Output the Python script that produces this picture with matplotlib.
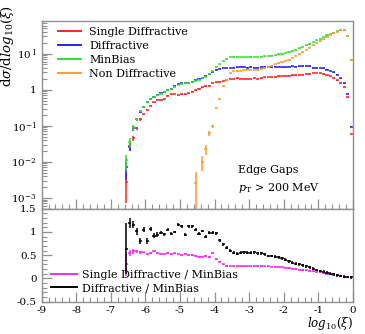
import numpy as np
import matplotlib
matplotlib.use("Agg")
import matplotlib.pyplot as plt
from matplotlib.lines import Line2D
from matplotlib.ticker import FixedLocator, MultipleLocator, LogLocator, NullFormatter, FuncFormatter

plt.rcParams["font.family"] = ["DejaVu Serif"]
plt.rcParams["mathtext.fontset"] = "dejavuserif"

# ── Data (bin centres in log10(xi), width 0.1) ────────────────────────────────
bins = np.round(np.arange(-6.55, 0.0, 0.1), 2)

single_diff = [0.0028, 0.027, 0.045, 0.085, 0.15, 0.21, 0.28, 0.36, 0.45, 0.52,
               0.53, 0.55, 0.68, 0.74, 0.76, 0.72, 0.75, 0.74, 0.80, 0.88,
               0.95, 1.05, 1.15, 1.25, 1.30, 1.55, 1.60, 1.65, 1.70, 1.90,
               2.00, 2.00, 2.05, 2.00, 2.00, 2.00, 2.00, 2.05, 2.00, 2.10,
               2.20, 2.25, 2.20, 2.30, 2.35, 2.40, 2.45, 2.45, 2.50, 2.50,
               2.50, 2.60, 2.70, 2.80, 2.90, 2.90, 2.85, 2.70, 2.50, 2.35,
               2.10, 1.80, 1.50, 1.20, 0.62, 0.059]
diffractive = [0.007, 0.026, 0.085, 0.15, 0.24, 0.33, 0.45, 0.56, 0.63, 0.70,
               0.80, 0.88, 0.97, 1.07, 1.25, 1.40, 1.50, 1.55, 1.55, 1.65,
               1.80, 1.95, 2.10, 2.35, 2.70, 3.10, 3.60, 3.80, 4.00, 4.00,
               4.00, 4.10, 4.20, 4.30, 4.20, 4.10, 4.20, 4.10, 4.10, 4.20,
               4.30, 4.30, 4.20, 4.30, 4.30, 4.20, 4.20, 4.30, 4.40, 4.30,
               4.50, 4.60, 4.60, 4.40, 4.10, 4.10, 4.00, 3.90, 3.60, 3.30,
               3.00, 2.60, 2.10, 1.50, 0.78, 0.095]
minbias = [0.011, 0.035, 0.09, 0.15, 0.25, 0.33, 0.45, 0.55, 0.62, 0.70,
           0.78, 0.85, 0.95, 1.05, 1.20, 1.35, 1.45, 1.50, 1.50, 1.60,
           1.75, 1.90, 2.10, 2.30, 2.70, 3.20, 4.20, 5.20, 6.20, 7.20,
           8.00, 8.20, 8.20, 8.10, 8.00, 8.10, 8.20, 8.00, 8.10, 8.30,
           8.40, 8.60, 8.80, 9.20, 9.60, 10.0, 10.4, 10.8, 11.6, 12.8,
           14.0, 15.3, 17.0, 19.0, 21.0, 23.5, 26.0, 29.0, 32.0, 35.0,
           38.0, 42.0, 46.0, 45.0, 31.0, 6.6]
non_diff = [np.nan] * 20 + [
           0.0026, np.nan, 0.010, 0.022, 0.063, 0.096, 0.31, 0.55, 1.24, 1.90,
           2.90, 3.30, 3.40, 3.40, 3.50, 3.60, 3.60, 3.50, 3.60, 3.80,
           3.90, 4.30, 4.60, 5.00, 5.40, 5.80, 6.20, 6.80, 7.60, 8.60,
           9.60, 11.0, 12.5, 14.5, 17.0, 19.5, 22.0, 25.0, 29.0, 33.0,
           37.0, 40.5, 44.0, 44.0, 30.0, 6.5]

# relative errors on the first bins (rest ~3%)
sd_relerr = [0.75, 0.25, 0.18, 0.12, 0.08]
dd_relerr = [0.55, 0.25, 0.15, 0.10, 0.06]
mb_relerr = [0.45, 0.30, 0.15, 0.08, 0.06]
nd_relerr = {20: 0.95, 22: 0.45, 23: 0.30, 24: 0.15, 25: 0.08}

ratio_sd = [0.30, 0.55, 0.58, 0.58, 0.56, 0.56, 0.53, 0.55, 0.58, 0.54,
            0.52, 0.53, 0.55, 0.52, 0.54, 0.53, 0.50, 0.53, 0.50, 0.50,
            0.48, 0.47, 0.47, 0.48, 0.46, 0.55, 0.42, 0.36, 0.30, 0.27,
            0.26, 0.26, 0.26, 0.26, 0.26, 0.26, 0.26, 0.26, 0.26, 0.27,
            0.26, 0.26, 0.25, 0.25, 0.24, 0.24, 0.23, 0.22, 0.21, 0.20,
            0.19, 0.18, 0.17, 0.16, 0.15, 0.14, 0.13, 0.12, 0.10, 0.09,
            0.08, 0.07, 0.05, 0.04, 0.03, 0.02]
ratio_dd = [0.64, 1.19, 1.16, 1.01, 0.80, 1.05, 0.80, 1.06, 0.92, 0.94,
            0.98, 0.95, 1.05, 0.96, 1.00, 1.16, 1.12, 0.94, 1.12, 1.12,
            1.05, 0.96, 1.02, 0.90, 0.98, 0.98, 0.97, 0.82, 0.73, 0.66,
            0.60, 0.55, 0.53, 0.55, 0.56, 0.55, 0.55, 0.56, 0.54, 0.54,
            0.52, 0.48, 0.48, 0.47, 0.45, 0.43, 0.40, 0.37, 0.34, 0.32,
            0.30, 0.28, 0.26, 0.24, 0.21, 0.18, 0.16, 0.14, 0.12, 0.10,
            0.09, 0.07, 0.05, 0.04, 0.03, 0.02]
ratio_sd_err = [0.25, 0.06, 0.05, 0.04, 0.03]
ratio_dd_err = [0.55, 0.10, 0.08, 0.07, 0.06, 0.06, 0.06, 0.05, 0.05, 0.05]

RED, BLUE, GREEN, ORANGE = "#ff2020", "#2020ff", "#30e030", "#ff9a30"
MAGENTA, BLACK = "#ff20ff", "#000000"
FRAME = "#909090"


def pad(head, n, fill):
    return np.array(list(head) + [fill] * (n - len(head)))


def draw(ax, x, y, err, color):
    y = np.asarray(y, dtype=float)
    ax.errorbar(x, y, xerr=0.045, yerr=err, fmt="none", ecolor=color,
                elinewidth=1.1, capsize=0)


def style(ax):
    for s in ax.spines.values():
        s.set_edgecolor(FRAME)
        s.set_linewidth(1.0)
    ax.tick_params(which="both", direction="in", colors=FRAME, labelcolor="black",
                   top=False, right=False, labelsize=7.5)
    ax.tick_params(which="major", length=7, width=0.9)
    ax.tick_params(which="minor", length=3.5, width=0.8)


n = len(bins)
fig = plt.figure(figsize=(3.65, 3.34), dpi=100)
ax = fig.add_axes([0.114, 0.375, 0.853, 0.562])
rax = fig.add_axes([0.114, 0.097, 0.853, 0.278], sharex=ax)

# ── Main panel ───────────────────────────────────────────────────────────────
series = [
    (single_diff, pad(sd_relerr, n, 0.03), RED),
    (diffractive, pad(dd_relerr, n, 0.03), BLUE),
    (minbias, pad(mb_relerr, n, 0.02), GREEN),
]
for vals, rel, c in series:
    v = np.asarray(vals, dtype=float)
    draw(ax, bins, v, np.vstack([np.minimum(v * rel, v * 0.999), v * rel]), c)

nd = np.asarray(non_diff, dtype=float)
nd_rel = np.full(n, 0.03)
for k, e in nd_relerr.items():
    nd_rel[k] = e
draw(ax, bins, nd, np.vstack([np.minimum(nd * nd_rel, nd * 0.999), nd * nd_rel]), ORANGE)

ax.set_yscale("log")
ax.set_xlim(-9, 0)
ax.set_ylim(5e-4, 80)
ax.yaxis.set_major_locator(FixedLocator([1e-3, 1e-2, 1e-1, 1, 10]))
ax.yaxis.set_minor_locator(LogLocator(base=10, subs=np.arange(2, 10), numticks=20))
ax.yaxis.set_minor_formatter(NullFormatter())
ylabels = {1e-3: r"$10^{-3}$", 1e-2: r"$10^{-2}$", 1e-1: r"$10^{-1}$", 1: "1", 10: r"$10^{\,1}$"}
ax.yaxis.set_major_formatter(FuncFormatter(lambda v, p: ylabels.get(v, "")))
ax.xaxis.set_major_locator(MultipleLocator(1))
ax.xaxis.set_minor_locator(MultipleLocator(0.2))
style(ax)
ax.tick_params(labelbottom=False)

handles = [Line2D([], [], color=c, lw=1.4) for c in (RED, BLUE, GREEN, ORANGE)]
ax.legend(handles, ["Single Diffractive", "Diffractive", "MinBias", "Non Diffractive"],
          loc="upper left", bbox_to_anchor=(0.038, 0.99), frameon=False, fontsize=8,
          handlelength=2.1, handletextpad=0.7, labelspacing=0.35, borderaxespad=0)

ax.text(0.63, 0.205, "Edge Gaps", transform=ax.transAxes, fontsize=8, va="center")
ax.text(0.63, 0.11, r"$p_\mathrm{T}$ > 200 MeV", transform=ax.transAxes, fontsize=8,
        va="center")

fig.text(0.021, 0.985, r"d$\sigma$/d$log_{10}(\xi)$", rotation=90, ha="center", va="top",
         fontsize=9.5)

# ── Ratio panel ──────────────────────────────────────────────────────────────
draw(rax, bins, ratio_sd, pad(ratio_sd_err, n, 0.015), MAGENTA)
draw(rax, bins, ratio_dd, pad(ratio_dd_err, n, 0.03), BLACK)
rax.set_ylim(-0.5, 1.5)
rax.yaxis.set_major_locator(MultipleLocator(0.5))
rax.yaxis.set_minor_locator(MultipleLocator(0.1))
rax.yaxis.set_major_formatter(FuncFormatter(lambda v, p: f"{v:g}"))
rax.xaxis.set_major_formatter(FuncFormatter(lambda v, p: f"{v:g}"))
style(rax)

rh = [Line2D([], [], color=c, lw=1.4) for c in (MAGENTA, BLACK)]
rax.legend(rh, ["Single Diffractive / MinBias", "Diffractive / MinBias"],
           loc="upper left", bbox_to_anchor=(0.015, 0.385), frameon=False, fontsize=8,
           handlelength=2.4, handletextpad=0.45, labelspacing=0.25, borderaxespad=0)

fig.text(0.967, 0.006, r"$log_{10}(\xi)$", ha="right", va="bottom", fontsize=8.5)

fig.savefig("out.png", dpi=100)
